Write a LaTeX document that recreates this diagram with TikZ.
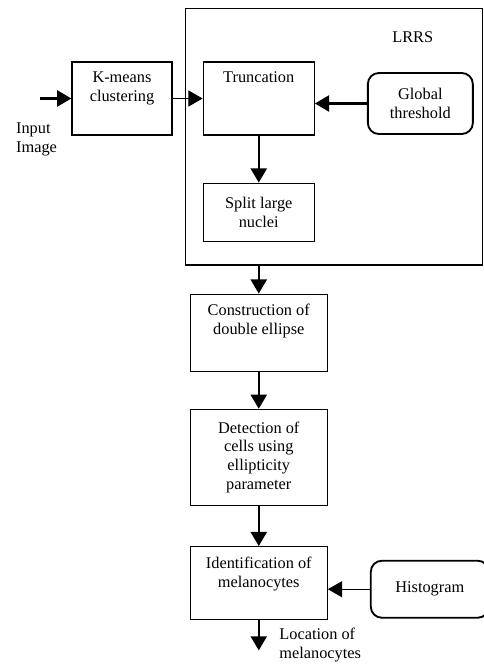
\documentclass[tikz,border=0pt]{standalone}
\usepackage{fontspec}
\setmainfont{Liberation Serif}
\usepackage{tikz}
\usetikzlibrary{arrows.meta, positioning, calc}
\tikzstyle{block} = [rectangle, draw=black, line width=0.8pt, minimum width=2.51cm, minimum height=1.65cm, text centered, align=center]
\tikzstyle{rblock} = [rectangle, rounded corners=0.25cm, draw=black, line width=1.2pt, text centered, align=center]
\tikzstyle{group} = [rectangle, draw=black, line width=0.9pt]
\tikzstyle{toptext} = [anchor=north, align=center, yshift=-0.12cm]
\tikzstyle{plain} = [align=left]
\tikzstyle{arrow} = [line width=1.6pt, -{Triangle[length=3.2mm, width=3.6mm]}]
\tikzstyle{thinarrow} = [line width=0.6pt, -{Triangle[length=3.2mm, width=3.6mm]}]

\begin{document}
\begin{tikzpicture}[font=\fontsize{10.5}{12.2}\selectfont]
\useasboundingbox (0,0) rectangle (10.916,-15.165);

% Top row
\node (kmeans) [block, minimum width=2.26cm, label={[toptext]north:{K-means\\clustering}}] at (2.757,-2.226) {};
\node (trunc) [block, right=0.678cm of kmeans, label={[toptext]north:Truncation}] {};
\node (glob) [rblock, right=1.175cm of trunc, yshift=-0.113cm, minimum width=2.373cm, minimum height=1.379cm] {Global\\threshold};
\node (split) [block, below=1.062cm of trunc, minimum height=1.311cm] {Split large\\nuclei};

% LRRS group
\node (lrrs) [group, anchor=north west, minimum width=6.71cm, minimum height=5.79cm] at (4.181,-0.181) {};
\node (lrrslabel) [below left=0.42cm and 1.01cm of lrrs.north east] {LRRS};
\coordinate (lrrsout) at (lrrs.south -| trunc);

% Lower chain
\node (constr) [block, below=0.633cm of lrrsout, minimum width=3.096cm, minimum height=1.74cm, label={[toptext]north:{Construction of\\double ellipse}}] {};
\node (detect) [block, below=0.836cm of constr, minimum width=3.096cm, minimum height=2.17cm] {Detection of\\cells using\\ellipticity\\parameter};
\node (ident) [block, below=0.904cm of detect, minimum width=3.096cm, label={[toptext]north:{Identification of\\melanocytes}}] {};
\node (hist) [rblock, right=0.949cm of ident, yshift=-0.136cm, minimum width=2.667cm, minimum height=1.288cm] {Histogram};

% Input and output
\coordinate (instart) at ($(kmeans.west)+(-0.71,0)$);
\coordinate (outend) at ($(ident.south)+(0,-0.68)$);
\node (inputtxt) [plain, anchor=north west] at (0.24,-2.66) {Input\\Image};
\node (loctxt) [plain, anchor=north west] at (6.19,-14.08) {Location of\\melanocytes};

% Arrows
\draw [arrow] (instart) -- (kmeans);
\draw [thinarrow] (kmeans) -- (trunc);
\draw [arrow] (glob.west) -- (glob.west -| trunc.east);
\draw [arrow] (trunc) -- (split);
\draw [arrow] (lrrsout) -- (constr);
\draw [arrow] (constr) -- (detect);
\draw [arrow] (detect) -- (ident);
\draw [thinarrow] (hist.west) -- (hist.west -| ident.east);
\draw [arrow] (ident) -- (outend);

\end{tikzpicture}
\end{document}
